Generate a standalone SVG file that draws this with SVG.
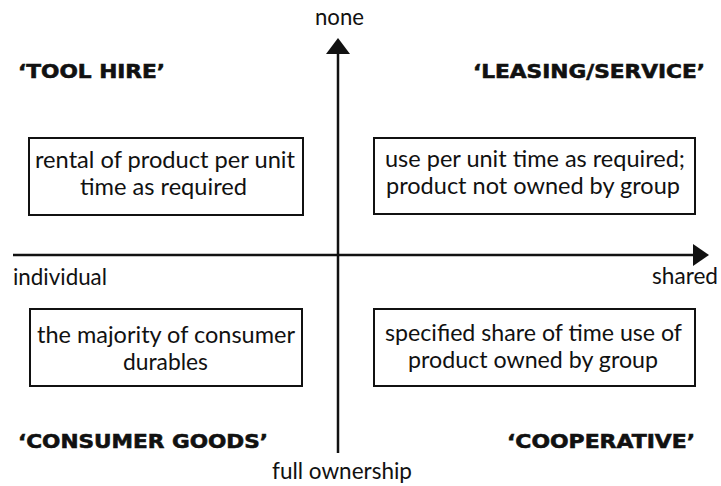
<svg xmlns="http://www.w3.org/2000/svg" width="721" height="486" viewBox="0 0 721 486">
<style>
.t{font-family:Lato,"Open Sans","Liberation Sans",sans-serif;font-size:23px;fill:#111}
.h{font-family:"DejaVu Sans","Liberation Sans",sans-serif;font-size:19px;font-weight:bold;fill:#111;stroke:#111;stroke-width:0.6}
.box{fill:#fff;stroke:#111;stroke-width:2}
.ax{stroke:#111;stroke-width:2.5;fill:none}
</style>
<rect width="721" height="486" fill="#fff"/>
<g id="connectors">
<line class="ax" x1="338" y1="453" x2="338" y2="52"/>
<path d="M326,54 L338,38 L350,54 Z" fill="#111"/>
<line class="ax" x1="13" y1="255" x2="695" y2="255"/>
<path d="M693,244 L709,255 L693,266 Z" fill="#111"/>
</g>
<g id="label-none"><text class="t" x="315" y="25" textLength="49" lengthAdjust="spacingAndGlyphs">none</text></g>
<g id="label-full"><text class="t" x="272" y="479" textLength="140" lengthAdjust="spacingAndGlyphs">full ownership</text></g>
<g id="label-individual"><text class="t" x="13" y="285" textLength="94" lengthAdjust="spacingAndGlyphs">individual</text></g>
<g id="label-shared"><text class="t" x="652" y="284" textLength="66" lengthAdjust="spacingAndGlyphs">shared</text></g>
<g id="title-toolhire"><text class="h" x="18" y="78" textLength="147" lengthAdjust="spacingAndGlyphs">‘TOOL HIRE’</text></g>
<g id="title-leasing"><text class="h" x="473" y="78" textLength="232" lengthAdjust="spacingAndGlyphs">‘LEASING/SERVICE’</text></g>
<g id="title-consumer"><text class="h" x="18" y="448" textLength="250" lengthAdjust="spacingAndGlyphs">‘CONSUMER GOODS’</text></g>
<g id="title-coop"><text class="h" x="507" y="448" textLength="188" lengthAdjust="spacingAndGlyphs">‘COOPERATIVE’</text></g>
<g id="box-tl">
<rect class="box" x="29" y="138" width="274" height="77"/>
<text class="t" x="35" y="168" textLength="260" lengthAdjust="spacingAndGlyphs">rental of product per unit</text>
<text class="t" x="80" y="195" textLength="167" lengthAdjust="spacingAndGlyphs">time as required</text>
</g>
<g id="box-tr">
<rect class="box" x="374" y="138" width="321" height="76"/>
<text class="t" x="385" y="167" textLength="300" lengthAdjust="spacingAndGlyphs">use per unit time as required;</text>
<text class="t" x="386" y="194" textLength="294" lengthAdjust="spacingAndGlyphs">product not owned by group</text>
</g>
<g id="box-bl">
<rect class="box" x="30" y="309" width="272" height="77"/>
<text class="t" x="37" y="343" textLength="258" lengthAdjust="spacingAndGlyphs">the majority of consumer</text>
<text class="t" x="123" y="370" textLength="85" lengthAdjust="spacingAndGlyphs">durables</text>
</g>
<g id="box-br">
<rect class="box" x="374" y="309" width="321" height="77"/>
<text class="t" x="385" y="341" textLength="297" lengthAdjust="spacingAndGlyphs">specified share of time use of</text>
<text class="t" x="408" y="368" textLength="250" lengthAdjust="spacingAndGlyphs">product owned by group</text>
</g>
</svg>
